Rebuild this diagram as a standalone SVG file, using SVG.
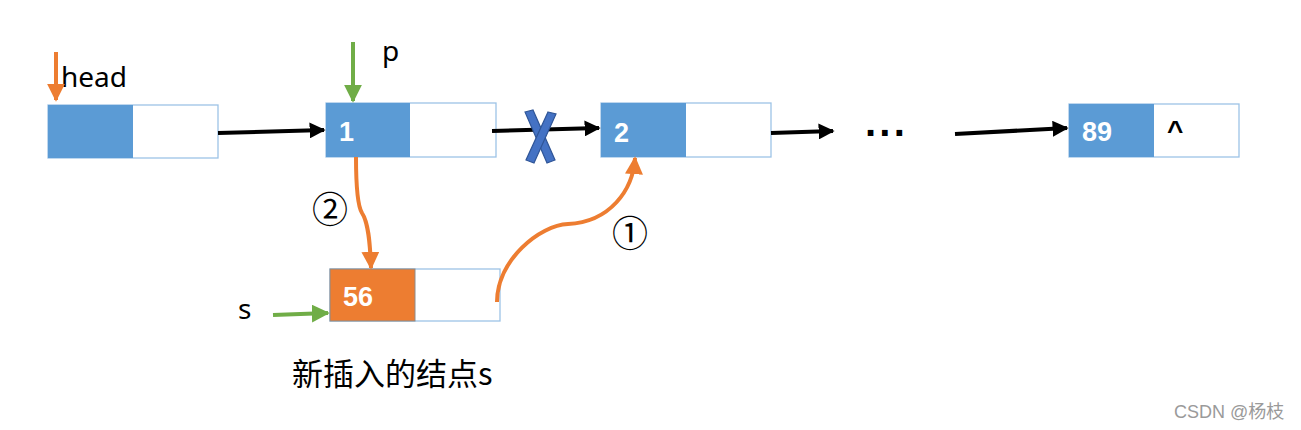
<svg xmlns="http://www.w3.org/2000/svg" width="1301" height="430" viewBox="0 0 1301 430">
<style>
.box{fill:#ffffff;stroke:#9dc3e6;stroke-width:1.3}
.blue{fill:#5b9bd5}
.org{fill:#ed7d31}
.num{font-family:"Liberation Sans",Arial,sans-serif;font-weight:bold;font-size:27px;fill:#ffffff}
.lbl{font-family:"Noto Sans","Liberation Sans",sans-serif;font-size:28px;fill:#000}
.blk{fill:none;stroke:#000;stroke-width:4}
</style>
<defs>
<marker id="ab" viewBox="0 0 10 10" refX="9" refY="5" markerWidth="4" markerHeight="4" orient="auto" markerUnits="strokeWidth"><path d="M0,0 L10,5 L0,10 z" fill="#000"/></marker>
<marker id="ao" viewBox="0 0 10 10" refX="9" refY="5" markerWidth="4.5" markerHeight="4.5" orient="auto" markerUnits="strokeWidth"><path d="M0,0 L10,5 L0,10 z" fill="#ed7d31"/></marker>
<marker id="ag" viewBox="0 0 10 10" refX="9" refY="5" markerWidth="4.5" markerHeight="4.5" orient="auto" markerUnits="strokeWidth"><path d="M0,0 L10,5 L0,10 z" fill="#70ad47"/></marker>
</defs>
<rect width="1301" height="430" fill="#fff"/>
<g id="node-head">
<rect class="box" x="48" y="105" width="170" height="53"/>
<rect class="blue" x="48" y="105" width="85" height="53"/>
</g>
<g id="node-1">
<rect class="box" x="326" y="103" width="170" height="54"/>
<rect class="blue" x="326" y="103" width="84" height="54"/>
<text class="num" x="339" y="141">1</text>
</g>
<g id="node-2">
<rect class="box" x="601" y="103" width="170" height="54"/>
<rect class="blue" x="601" y="103" width="85" height="54"/>
<text class="num" x="614" y="142">2</text>
</g>
<g id="node-89">
<rect class="box" x="1069" y="104" width="170" height="53"/>
<rect class="blue" x="1069" y="104" width="85" height="53"/>
<text class="num" x="1082" y="141">89</text>
<text x="1167" y="140" style="font-family:'Liberation Sans',sans-serif;font-weight:bold;font-size:28px;fill:#000">^</text>
</g>
<g id="node-56">
<rect x="330" y="269" width="170" height="52" fill="#fff" stroke="#9dc3e6" stroke-width="1.3"/>
<rect class="org" x="330" y="269" width="85" height="52" stroke="#8c8c8c" stroke-width="1"/>
<text class="num" x="343" y="306">56</text>
</g>
<g id="labels">
<text class="lbl" x="61" y="87">head</text>
<text class="lbl" x="382" y="61">p</text>
<text class="lbl" x="238" y="319">s</text>
<text x="865" y="147" style="font-family:'Liberation Sans',sans-serif;font-weight:bold;font-size:40px;letter-spacing:1px;fill:#000">···</text>
<text x="312" y="223" style="font-family:'Noto Sans CJK SC',sans-serif;font-size:36px;fill:#000">②</text>
<text x="612" y="247" style="font-family:'Noto Sans CJK SC',sans-serif;font-size:36px;fill:#000">①</text>
<text x="292" y="385" style="font-family:'Noto Sans CJK SC','Noto Sans',sans-serif;font-size:31px;fill:#000">新插入的结点s</text>
<text x="1174" y="418" style="font-family:'Liberation Sans','Noto Sans CJK SC',sans-serif;font-size:18px;fill:#9a9a9a">CSDN @杨枝</text>
</g>
<g id="connectors">
<path class="blk" d="M218,133 L324,130" marker-end="url(#ab)"/>
<path class="blk" d="M492,131 L599,128" marker-end="url(#ab)"/>
<path class="blk" d="M771,133 L833,131" marker-end="url(#ab)"/>
<path class="blk" d="M955,134 L1067,128" marker-end="url(#ab)"/>
<path d="M56,52 L56,100" stroke="#ed7d31" stroke-width="4" fill="none" marker-end="url(#ao)"/>
<path d="M353,42 L353,101" stroke="#70ad47" stroke-width="4" fill="none" marker-end="url(#ag)"/>
<path d="M273,315 L328,313" stroke="#70ad47" stroke-width="4" fill="none" marker-end="url(#ag)"/>
<path d="M356,157 C356,180 357,205 362,213 C368,222 370,240 371,268" stroke="#ed7d31" stroke-width="4" fill="none" marker-end="url(#ao)"/>
<path d="M497,302 C497,260 540,225 568,224 C610,222 633,190 635,158" stroke="#ed7d31" stroke-width="4" fill="none" marker-end="url(#ao)"/>
</g>
<g id="cross" stroke="#2f5597" stroke-width="1.2" fill="#4472c4">
<polygon points="525,112 533,110 555,160 547,163"/>
<polygon points="548,112 556,114 534,163 526,160"/>
</g>
</svg>
